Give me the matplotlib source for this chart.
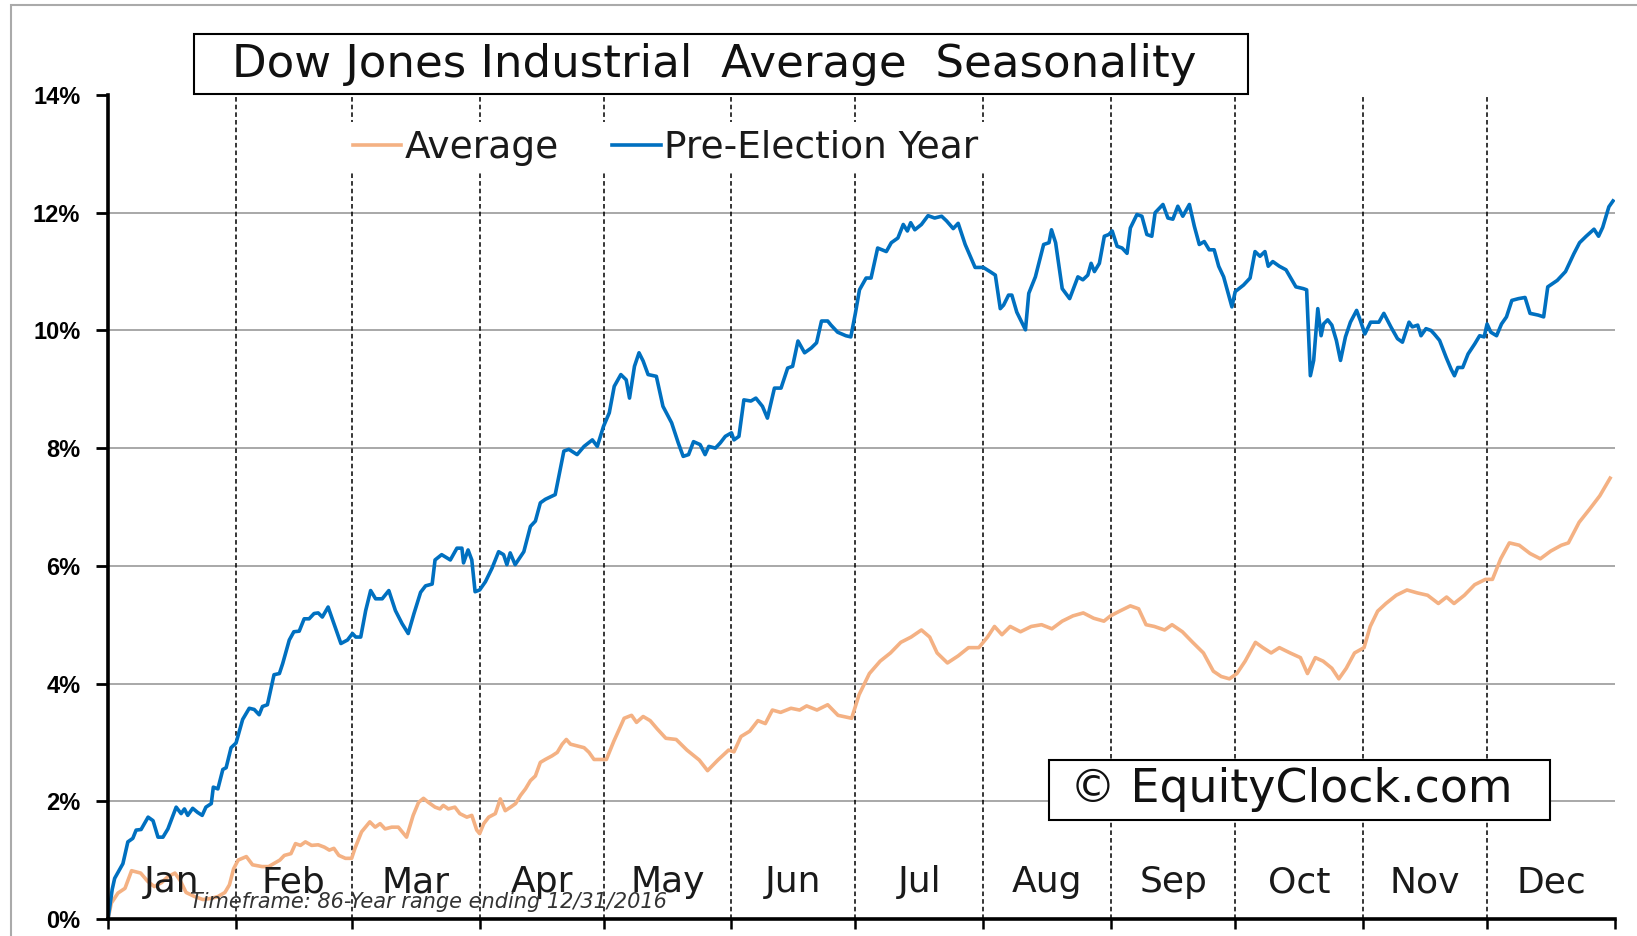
import matplotlib
matplotlib.use('Agg')
import matplotlib.pyplot as plt
from matplotlib.patches import Rectangle

months = ['Jan', 'Feb', 'Mar', 'Apr', 'May', 'Jun', 'Jul', 'Aug', 'Sep', 'Oct', 'Nov', 'Dec']
month_start = [0, 31, 59, 90, 120, 151, 181, 212, 243, 273, 304, 334, 365]
y_ticks = [0, 2, 4, 6, 8, 10, 12, 14]

# Average (orange), day of year / cumulative %
avg_day = [0, 0.8, 2.4, 4.1, 5.7, 7.9, 9.6, 11.2, 13, 14.5, 16.2, 17.5, 18.9, 21, 23, 25, 26.6, 28.3, 29.4,
           30.4, 31.5, 33.5, 35, 37.3, 38.9, 41.6, 42.7, 44.3, 45.4, 46.6, 47.8, 49.3, 50.9, 52.4, 53.6, 54.7,
           55.9, 57.5, 59, 59.8, 61.4, 63.4, 64.7, 65.9, 67.1, 68.7, 70.3, 72.3, 73.9, 75.2, 76.4, 77.6, 79.2,
           80.4, 81.2, 82.4, 84, 85.2, 86.9, 88.1, 89.3, 90, 91, 92.2, 93.8, 95, 96.2, 97.5, 98.7, 99.9, 101.1,
           102.3, 103.5, 104.7, 105.9, 107.5, 108.8, 110, 111, 112, 113.7, 115.3, 116.5, 117.7, 120.7, 122.5,
           125, 126.8, 128, 129.6, 131.3, 133, 135.1, 137.6, 140.2, 143.2, 145.2, 147.7, 150.3, 151.6, 153.3,
           155.4, 157.4, 159.2, 160.9, 162.9, 165.4, 167.5, 169.2, 171.7, 174.3, 176.8, 180.1, 181.9, 184.4,
           187, 189.5, 192, 194.5, 197, 199, 200.8, 203.3, 205.9, 208.4, 210.9, 213, 214.7, 216.5, 218.5, 221,
           223.6, 226.1, 228.6, 231.1, 233.7, 236.2, 238.7, 241.2, 242.8, 245, 247.6, 249.6, 251.4, 253.4,
           255.9, 257.7, 260.2, 262.7, 265.3, 267.7, 269.6, 271.6, 273.4, 275.4, 277.9, 279.7, 281.7, 283.7,
           286.3, 288.8, 290.5, 292.4, 294.3, 296.4, 298.1, 299.9, 301.9, 304.2, 305.7, 307.5, 309.5, 312,
           314.6, 317.1, 319.6, 322.2, 324.2, 326, 328.5, 331, 333.6, 335.3, 337.3, 339.4, 341.8, 344.4, 346.9,
           349.4, 352, 353.7, 356.3, 358.8, 361.3, 363.8]
avg_val = [0, 0.27, 0.44, 0.52, 0.82, 0.78, 0.64, 0.55, 0.62, 0.72, 0.78, 0.65, 0.45, 0.38, 0.33, 0.35, 0.38, 0.45, 0.58,
           0.85, 1.0, 1.06, 0.92, 0.89, 0.89, 1.0, 1.08, 1.11, 1.28, 1.25, 1.31, 1.25, 1.26, 1.22, 1.17, 1.2,
           1.08, 1.03, 1.03, 1.20, 1.48, 1.65, 1.56, 1.62, 1.53, 1.56, 1.56, 1.39, 1.76, 1.98, 2.05, 1.98, 1.90,
           1.87, 1.93, 1.87, 1.90, 1.79, 1.73, 1.76, 1.51, 1.45, 1.62, 1.73, 1.79, 2.04, 1.84, 1.90, 1.96, 2.10, 2.21,
           2.35, 2.43, 2.66, 2.71, 2.77, 2.83, 2.97, 3.05, 2.97, 2.94, 2.91, 2.83, 2.71, 2.71, 3.02,
           3.41, 3.46, 3.34, 3.44, 3.37, 3.23, 3.07, 3.05, 2.87, 2.70, 2.52, 2.70, 2.87, 2.84, 3.10,
           3.19, 3.37, 3.32, 3.55, 3.51, 3.58, 3.55, 3.62, 3.55, 3.64, 3.46, 3.41, 3.81, 4.17,
           4.38, 4.52, 4.70, 4.79, 4.91, 4.79, 4.52, 4.35, 4.47, 4.61, 4.61, 4.79, 4.97, 4.83, 4.97, 4.88,
           4.97, 5.00, 4.93, 5.06, 5.15, 5.20, 5.11, 5.06, 5.15, 5.23, 5.32, 5.27, 5.00, 4.97,
           4.91, 5.00, 4.88, 4.70, 4.52, 4.21, 4.12, 4.08, 4.17, 4.38, 4.70, 4.61, 4.52, 4.61,
           4.52, 4.44, 4.17, 4.44, 4.38, 4.26, 4.08, 4.26, 4.52, 4.61, 4.97, 5.23, 5.36, 5.50,
           5.59, 5.54, 5.50, 5.36, 5.47, 5.36, 5.50, 5.68, 5.77, 5.77, 6.12, 6.39, 6.35, 6.21, 6.12,
           6.25, 6.35, 6.39, 6.74, 6.96, 7.19, 7.49]

# Pre-Election Year (blue)
pre_day = [0, 1, 1.6, 3.6, 4.8, 6, 6.8, 8, 9.7, 10.9, 12.1, 13.3, 14.5, 16.5, 17.7, 18.5, 19.3, 20.5, 21.7, 22.8,
           23.7, 25, 25.5, 26.6, 27.8, 28.6, 29.8, 31, 32.6, 34.2, 35.4, 36.6, 37.4, 38.6, 40.2, 41.5, 42.3,
           43.9, 45, 46.3, 47.5, 48.7, 49.9, 50.9, 51.9, 53.3, 54.7, 56.4, 58, 59.2, 60, 61.2, 62.4, 63.6, 64.8,
           66.4, 68, 69.6, 71.2, 72.7, 74.1, 75.7, 76.9, 78.5, 79.2, 80.8, 82.9, 84.5, 85.7, 86.1, 87.2, 88.1,
           88.9, 90, 91.4, 93, 94.6, 95.8, 96.6, 97.4, 98.6, 100.7, 102.3, 103.5, 104.7, 105.9, 108.3, 110.4,
           111.6, 113.6, 115.3, 117.3, 118.5, 120, 121.4, 122.6, 124.2, 125.5, 126.3, 127.5, 128.6, 129.6,
           130.8, 132.8, 134.4, 136.5, 138.1, 139.3, 140.6, 141.8, 143.4, 144.6, 145.5, 147.1, 148.3, 149.5,
           151, 151.6, 152.8, 154, 155.7, 156.9, 158.5, 159.7, 161.4, 163, 164.6, 165.8, 167.1, 168.7, 170.3,
           171.6, 172.8, 174.3, 175.1, 176.7, 178.7, 179.9, 181, 182, 183.6, 184.8, 186.4, 188.5, 189.7, 191.3,
           192.6, 193.6, 194.4, 195.4, 197, 198.6, 200.2, 201.9, 203.1, 204.7, 205.9, 207.6, 210, 212, 213.6,
           214.9, 216.1, 216.9, 218.1, 218.9, 220.1, 222.2, 223, 224.6, 226.6, 227.9, 228.5, 229.5, 231.1,
           232.9, 234.9, 236.1, 237.3, 238.1, 238.9, 240.1, 241.3, 242.4, 243.2, 244.4, 245.6, 246.8, 247.6,
           249.2, 250.4, 251.6, 252.8, 253.6, 255.5, 256.7, 257.9, 259.1, 260.3, 261.9, 263.1, 264.3, 265.5,
           266.7, 267.9, 269, 270.2, 272.2, 273, 275, 276.6, 277.8, 279, 280.2, 281, 282.1, 283.7, 285.3, 287.7,
           289.5, 290.3, 291.2, 292, 293, 293.8, 294.4, 295.4, 296.4, 297.5, 298.5, 299.7, 300.9, 302.4, 303.3,
           304.4, 305.8, 307.8, 309, 310.7, 312.3, 313.5, 315.1, 315.9, 317.2, 318, 319.2, 320.4, 321.2, 322.5,
           324.1, 325.3, 326.1, 326.9, 328.1, 329.4, 331, 332.2, 333.3, 334, 334.9, 336.3, 337.5, 338.7, 340,
           341.6, 343.2, 344.4, 346.4, 347.7, 348.7, 351, 353, 355, 356.4, 358, 359.9, 361, 362, 363.5, 364.5]
pre_val = [0, 0.5, 0.69, 0.94, 1.31, 1.37, 1.51, 1.52, 1.73, 1.67, 1.39, 1.39, 1.53, 1.90, 1.79, 1.87, 1.76, 1.88, 1.81, 1.76,
           1.90, 1.96, 2.24, 2.21, 2.54, 2.57, 2.91, 2.99, 3.39, 3.58, 3.56, 3.47, 3.61, 3.64, 4.15, 4.17, 4.34,
           4.74, 4.88, 4.89, 5.10, 5.10, 5.19, 5.20, 5.13, 5.30, 5.02, 4.68, 4.74, 4.85, 4.79, 4.79, 5.24, 5.58, 5.44,
           5.44, 5.58, 5.24, 5.02, 4.85, 5.19, 5.55, 5.66, 5.69, 6.10, 6.19, 6.10, 6.30, 6.30, 6.05, 6.27, 6.10,
           5.56, 5.59, 5.73, 5.96, 6.24, 6.19, 6.02, 6.22, 6.02, 6.24, 6.67, 6.76, 7.07, 7.13, 7.21, 7.95,
           7.98, 7.89, 8.03, 8.14, 8.03, 8.37, 8.60, 9.05, 9.25, 9.16, 8.85, 9.39, 9.62, 9.48,
           9.25, 9.22, 8.71, 8.43, 8.09, 7.86, 7.89, 8.11, 8.06, 7.89, 8.03, 8.00, 8.09, 8.20,
           8.26, 8.14, 8.20, 8.82, 8.80, 8.85, 8.71, 8.51, 9.02, 9.02, 9.36, 9.39, 9.82, 9.62, 9.70,
           9.79, 10.16, 10.16, 10.09, 9.97, 9.91, 9.89, 10.29, 10.69, 10.89, 10.89, 11.40, 11.34, 11.49, 11.57,
           11.80, 11.69, 11.83, 11.71, 11.80, 11.95, 11.91, 11.94, 11.86, 11.73, 11.82, 11.46, 11.07, 11.07, 11.00,
           10.94, 10.37, 10.43, 10.60, 10.60, 10.31, 10.01, 10.63, 10.91, 11.46, 11.49, 11.71, 11.49, 10.71,
           10.54, 10.91, 10.86, 10.94, 11.14, 11.00, 11.14, 11.60, 11.63, 11.69, 11.43, 11.40, 11.31, 11.74,
           11.97, 11.94, 11.63, 11.60, 12.00, 12.14, 11.91, 11.89, 12.11, 11.94, 12.14, 11.77, 11.46, 11.51,
           11.37, 11.37, 11.09, 10.91, 10.40, 10.66, 10.77, 10.89, 11.34, 11.26, 11.34, 11.09, 11.17, 11.09, 11.03, 10.74,
           10.71, 10.69, 9.23, 9.49, 10.37, 9.91, 10.11, 10.18, 10.09, 9.83, 9.49, 9.89, 10.14, 10.34, 10.17,
           9.94, 10.14, 10.14, 10.29, 10.06, 9.86, 9.80, 10.14, 10.06, 10.09, 9.91, 10.03, 10.00, 9.94, 9.83,
           9.54, 9.34, 9.23, 9.37, 9.37, 9.60, 9.77, 9.91, 9.89, 10.11, 9.97, 9.91, 10.11, 10.23, 10.51,
           10.54, 10.56, 10.29, 10.26, 10.23, 10.74, 10.85, 11.0, 11.3, 11.49, 11.6, 11.72, 11.6, 11.75, 12.1, 12.2]

fig = plt.figure(figsize=(16.37, 9.36), dpi=100)
ax = fig.add_axes([0.066, 0.0182, 0.9206, 0.8803])
ax.set_xlim(0, 364.5)
ax.set_ylim(0, 14)

for y in y_ticks[1:-1]:
    ax.axhline(y, color='#9a9a9a', lw=1.2, zorder=1)
ax.vlines(month_start[1:12], 0, 14, colors='black', linestyles=(0, (3, 2)), lw=1.1, zorder=1)

ax.plot(avg_day, avg_val, color='#F4B183', lw=2.6, zorder=3, label='Average')
ax.plot(pre_day, pre_val, color='#0070C0', lw=2.6, zorder=4, label='Pre-Election Year')

for s in ['top', 'right']:
    ax.spines[s].set_visible(False)
for s in ['left', 'bottom']:
    ax.spines[s].set_linewidth(2.6)
    ax.spines[s].set_zorder(6)

ax.set_yticks(y_ticks)
ax.set_yticklabels([f'{v}%' for v in y_ticks], fontfamily='Liberation Sans', fontweight='bold', fontsize=17)
ax.tick_params(axis='y', length=9, width=2, pad=11, direction='out')
ax.set_xticks(month_start)
ax.set_xticklabels([])
ax.tick_params(axis='x', length=7, width=1.8, direction='out')

for i, m in enumerate(months):
    mid = (month_start[i] + month_start[i + 1]) / 2
    ax.text(mid, 0.62, m, ha='center', va='center', fontsize=26, color='#1a1a1a', zorder=5)

ax.text(77.5, 0.28, 'Timeframe: 86-Year range ending 12/31/2016', ha='center', va='center',
        fontsize=15, style='italic', color='#333333', zorder=5)

leg = ax.legend(loc='center', bbox_to_anchor=(0.37, 0.936), ncol=2, fontsize=27, frameon=True,
                handlelength=1.3, handletextpad=0.1, columnspacing=1.4, borderpad=0.2, fancybox=False)
leg.get_frame().set_linewidth(0)
leg.get_frame().set_facecolor('white')
leg.get_frame().set_alpha(1)
for t in leg.get_texts():
    t.set_color('#1a1a1a')

# figure border
fig.add_artist(Rectangle((11 / 1637, -0.05), 1.1, 1 - 5 / 936 + 0.05, transform=fig.transFigure,
                         fill=False, edgecolor='#aaaaaa', lw=1.5))

# title box
fig.add_artist(Rectangle((194 / 1637, 1 - 94 / 936), 1054 / 1637, 60 / 936, transform=fig.transFigure,
                         facecolor='white', edgecolor='black', lw=1.5, zorder=2))
fig.text(714 / 1637, 1 - 65 / 936, 'Dow Jones Industrial  Average  Seasonality', ha='center', va='center',
         fontsize=32.5, color='#111111', zorder=3)

# watermark box
fig.add_artist(Rectangle((1049 / 1637, 1 - 820 / 936), 501 / 1637, 60 / 936, transform=fig.transFigure,
                         facecolor='white', edgecolor='black', lw=1.5, zorder=2))
fig.text(1291 / 1637, 1 - 790 / 936, '\u00a9 EquityClock.com', ha='center', va='center',
         fontsize=33, color='#111111', zorder=3)

fig.savefig('out.png', dpi=100)
